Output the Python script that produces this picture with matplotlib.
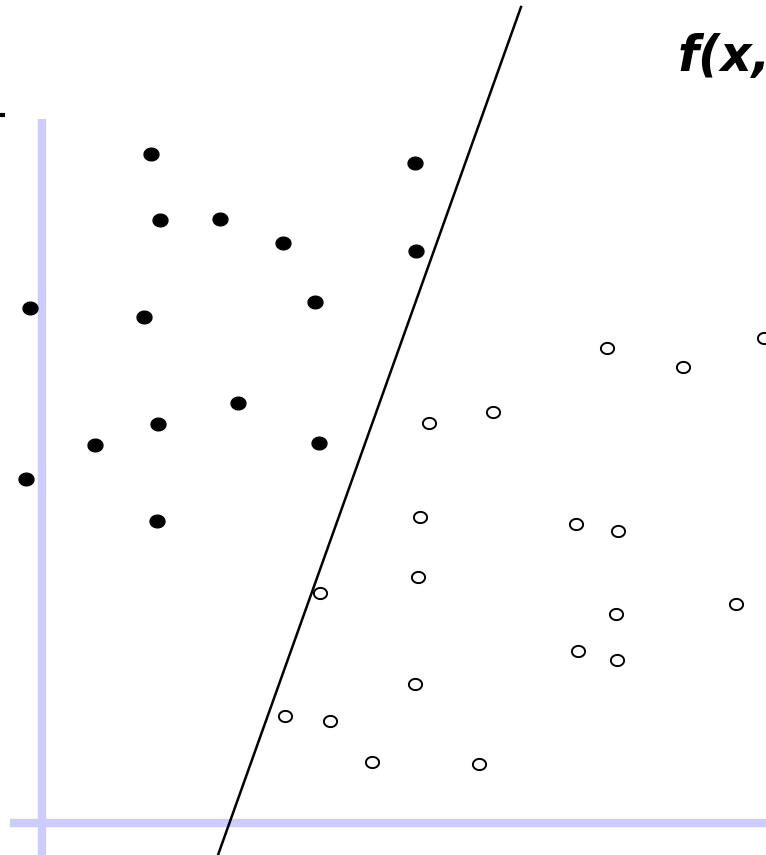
import numpy as np
import matplotlib
matplotlib.use("Agg")
import matplotlib.pyplot as plt
from matplotlib.path import Path

# point positions (image pixel units, y down)
filled_x = [151, 415, 160, 220, 283, 416, 30, 144, 315, 238, 158, 95, 319, 26, 157]
filled_y = [154, 163, 220, 219, 243, 251, 308, 317, 302, 403, 424, 445, 443, 479, 521]

open_x = [607, 683, 764, 429, 493, 420, 576, 618, 418, 320, 616, 736, 578, 617, 415, 285, 330, 372, 479]
open_y = [348, 367, 338, 423, 412, 517, 524, 531, 577, 593, 614, 604, 651, 660, 684, 716, 721, 762, 764]

sep_x = [521, 218]
sep_y = [7, 855]

W, H = 766, 855

def ellipse_marker(ratio):
    t = np.linspace(0, 2 * np.pi, 60)
    verts = np.column_stack([np.cos(t), ratio * np.sin(t)])
    return Path(verts, closed=True)

def main():
    fig = plt.figure(figsize=(W / 100, H / 100), dpi=100)
    ax = fig.add_axes([0, 0, 1, 1])
    ax.set_xlim(0, W)
    ax.set_ylim(H, 0)
    ax.axis("off")

    axis_col = "#ccccff"
    ax.plot([41.5, 41.5], [119, H], color=axis_col, lw=6, solid_capstyle="butt", zorder=1)
    ax.plot([10, W], [823, 823], color=axis_col, lw=6, solid_capstyle="butt", zorder=1)

    ax.plot(sep_x, sep_y, color="black", lw=1.8, zorder=2)

    ax.scatter(filled_x, filled_y, marker=ellipse_marker(0.85), s=115,
               color="black", zorder=3)
    ax.scatter(open_x, open_y, marker=ellipse_marker(0.85), s=90,
               facecolor="white", edgecolor="black", linewidths=1.4, zorder=3)

    # stray bit of text clipped on the left
    ax.plot([0, 5], [115, 115], color="black", lw=3, solid_capstyle="butt")

    # title runs off the right edge, as in the original
    ax.text(678, 71, "f(x,", fontsize=35, fontweight="bold", fontstyle="italic",
            family="DejaVu Sans", ha="left", va="baseline", clip_on=False)

    fig.savefig("out.png", dpi=100)
    plt.close(fig)

if __name__ == "__main__":
    main()
